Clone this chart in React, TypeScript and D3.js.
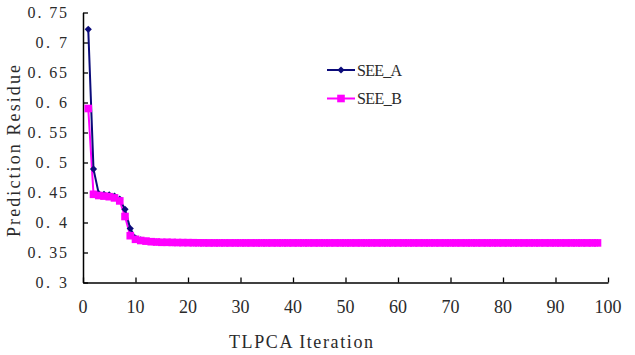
import React, { useEffect, useRef } from 'react';
import * as d3 from 'd3';

// Residue per TLPCA iteration (iteration = index + 1)
const seeA: number[] = [
  0.722, 0.489, 0.448, 0.447, 0.446, 0.444, 0.439, 0.422, 0.390, 0.374,
  0.371, 0.369, 0.368, 0.3675, 0.367, 0.3668, 0.3666, 0.3665, 0.3664, 0.3663,
  0.3662, 0.3661, 0.366, 0.366, 0.366, 0.366, 0.366, 0.366, 0.366, 0.366,
  0.366, 0.366, 0.366, 0.366, 0.366, 0.366, 0.366, 0.366, 0.366, 0.366,
  0.366, 0.366, 0.366, 0.366, 0.366, 0.366, 0.366, 0.366, 0.366, 0.366,
  0.366, 0.366, 0.366, 0.366, 0.366, 0.366, 0.366, 0.366, 0.366, 0.366,
  0.366, 0.366, 0.366, 0.366, 0.366, 0.366, 0.366, 0.366, 0.366, 0.366,
  0.366, 0.366, 0.366, 0.366, 0.366, 0.366, 0.366, 0.366, 0.366, 0.366,
  0.366, 0.366, 0.366, 0.366, 0.366, 0.366, 0.366, 0.366, 0.366, 0.366,
  0.366, 0.366, 0.366, 0.366, 0.366, 0.366, 0.366, 0.366,
];

const seeB: number[] = [
  0.590, 0.447, 0.445, 0.444, 0.443, 0.441, 0.436, 0.410, 0.378, 0.372,
  0.370, 0.369, 0.368, 0.3675, 0.367, 0.367, 0.3668, 0.3666, 0.3665, 0.3664,
  0.3663, 0.3662, 0.3661, 0.366, 0.366, 0.366, 0.366, 0.366, 0.366, 0.366,
  0.366, 0.366, 0.366, 0.366, 0.366, 0.366, 0.366, 0.366, 0.366, 0.366,
  0.366, 0.366, 0.366, 0.366, 0.366, 0.366, 0.366, 0.366, 0.366, 0.366,
  0.366, 0.366, 0.366, 0.366, 0.366, 0.366, 0.366, 0.366, 0.366, 0.366,
  0.366, 0.366, 0.366, 0.366, 0.366, 0.366, 0.366, 0.366, 0.366, 0.366,
  0.366, 0.366, 0.366, 0.366, 0.366, 0.366, 0.366, 0.366, 0.366, 0.366,
  0.366, 0.366, 0.366, 0.366, 0.366, 0.366, 0.366, 0.366, 0.366, 0.366,
  0.366, 0.366, 0.366, 0.366, 0.366, 0.366, 0.366, 0.366,
];

const xTicks = [0, 10, 20, 30, 40, 50, 60, 70, 80, 90, 100];
const yTicks = [0.3, 0.35, 0.4, 0.45, 0.5, 0.55, 0.6, 0.65, 0.7, 0.75];
const seriesNames = ['SEE_A', 'SEE_B'];

const FONT = "'Liberation Serif', 'Times New Roman', serif";
const TEXT_COLOR = '#2a2a2a';
const COLOR_A = '#0b0b7a';
const COLOR_B = '#ff00ff';

export default function App() {
  const svgRef = useRef<SVGSVGElement>(null);

  useEffect(() => {
    const W = 635;
    const H = 355;
    const svg = d3.select(svgRef.current);
    svg.selectAll('*').remove();
    svg.attr('width', W).attr('height', H);

    const x = d3.scaleLinear().domain([0, 100]).range([83, 608]);
    const y = d3.scaleLinear().domain([0.3, 0.75]).range([282.5, 12.5]);

    // y axis, ticks pointing into the plot
    const yAxis = svg.append('g').attr('transform', `translate(${x(0)},0)`);
    yAxis.call(d3.axisLeft(y).tickValues(yTicks).tickSize(-5).tickSizeOuter(0).tickFormat(() => ''));
    yAxis.select('.domain').attr('stroke', '#000').attr('stroke-width', 1.5);
    yAxis.selectAll('.tick line').attr('stroke', '#000').attr('stroke-width', 1.3);

    // tick labels use the wide decimal spacing ("0. 75")
    const yLabel = (d: number) => d3.format('.2~f')(d).replace('.', '. ');
    svg.append('g')
      .selectAll('text')
      .data(yTicks)
      .enter()
      .append('text')
      .attr('x', 67)
      .attr('y', d => y(d) + 5.8)
      .attr('text-anchor', 'end')
      .style('font-family', FONT)
      .style('font-size', '16px')
      .attr('fill', TEXT_COLOR)
      .attr('textLength', d => yLabel(d).length * 7.9)
      .attr('lengthAdjust', 'spacing')
      .text(yLabel);

    // x axis
    const xAxis = svg.append('g').attr('transform', `translate(0,${y(0.3)})`);
    xAxis.call(d3.axisBottom(x).tickValues(xTicks).tickSize(-5).tickSizeOuter(0).tickFormat(() => ''));
    xAxis.select('.domain').attr('stroke', '#000').attr('stroke-width', 1.5);
    xAxis.selectAll('.tick line').attr('stroke', '#000').attr('stroke-width', 1.3);

    svg.append('g')
      .selectAll('text')
      .data(xTicks)
      .enter()
      .append('text')
      .attr('x', d => x(d))
      .attr('y', 313)
      .attr('text-anchor', 'middle')
      .style('font-family', FONT)
      .style('font-size', '18px')
      .attr('fill', TEXT_COLOR)
      .text(d => String(d));

    // axis titles
    svg.append('text')
      .attr('x', 229)
      .attr('y', 347.5)
      .style('font-family', FONT)
      .style('font-size', '18px')
      .attr('fill', TEXT_COLOR)
      .attr('textLength', 144)
      .attr('lengthAdjust', 'spacing')
      .text('TLPCA Iteration');

    svg.append('text')
      .attr('transform', 'translate(20,237) rotate(-90)')
      .style('font-family', FONT)
      .style('font-size', '18px')
      .attr('fill', TEXT_COLOR)
      .attr('textLength', 172)
      .attr('lengthAdjust', 'spacing')
      .text('Prediction Residue');

    const line = d3.line<number>()
      .x((d, i) => x(i + 1))
      .y(d => y(d));

    // diamond = small square turned 45deg, so it stays inside the pink squares
    const diamond = d3.symbol().type(d3.symbolSquare).size(26);
    const square = d3.symbol().type(d3.symbolSquare).size(58);

    // SEE_B line under SEE_A line; markers afterwards
    svg.append('path')
      .datum(seeB)
      .attr('fill', 'none')
      .attr('stroke', COLOR_B)
      .attr('stroke-width', 2)
      .attr('d', line);

    svg.append('path')
      .datum(seeA)
      .attr('fill', 'none')
      .attr('stroke', COLOR_A)
      .attr('stroke-width', 2)
      .attr('d', line);

    svg.append('g')
      .selectAll('path')
      .data(seeA)
      .enter()
      .append('path')
      .attr('d', diamond)
      .attr('transform', (d, i) => `translate(${x(i + 1)},${y(d)}) rotate(45)`)
      .attr('fill', COLOR_A);

    svg.append('g')
      .selectAll('path')
      .data(seeB)
      .enter()
      .append('path')
      .attr('d', square)
      .attr('transform', (d, i) => `translate(${x(i + 1)},${y(d)})`)
      .attr('fill', COLOR_B);

    // legend
    const legend = svg.append('g');
    seriesNames.forEach((name, i) => {
      const cy = 70 + i * 28.5;
      const color = i === 0 ? COLOR_A : COLOR_B;
      legend.append('line')
        .attr('x1', 327).attr('x2', 355)
        .attr('y1', cy).attr('y2', cy)
        .attr('stroke', color)
        .attr('stroke-width', 2);
      legend.append('path')
        .attr('d', i === 0 ? diamond : square)
        .attr('transform', `translate(341,${cy})${i === 0 ? ' rotate(45)' : ''}`)
        .attr('fill', color);
      legend.append('text')
        .attr('x', 357)
        .attr('y', cy + 5.5)
        .style('font-family', FONT)
        .style('font-size', '16px')
        .attr('fill', TEXT_COLOR)
        .attr('textLength', 45)
        .attr('lengthAdjust', 'spacing')
        .text(name);
    });
  }, []);

  return (
    <div style={{ position: 'absolute', left: 0, top: 0, background: '#fff' }}>
      <svg ref={svgRef} style={{ display: 'block' }}></svg>
    </div>
  );
}
